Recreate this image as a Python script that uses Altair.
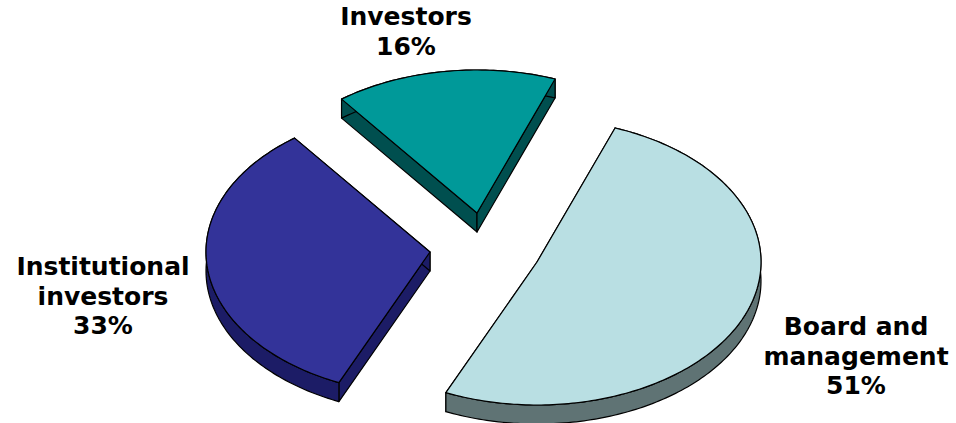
import math
import altair as alt

# Shareholder split, drawn clockwise from the first slice's start angle
labels = ["Investors", "Board and\nmanagement", "Institutional\ninvestors"]
shares = [16, 51, 33]

# Layout: exploded slice apexes, lid ellipse, extrusion depth, first-line label anchors
apex_x = [477, 537, 430]
apex_y = [213, 262, 252]
label_x = [406, 856, 103]
label_y = [17, 327, 267]
RX, RY = 224, 143
DEPTH = 19
START_DEG = -37.2

top_colors = ["#009999", "#B9DFE3", "#333399"]
side_colors = ["#004F4F", "#5F7374", "#1C1C66"]


def feature(ring, fill):
    return {
        "type": "Feature",
        "geometry": {"type": "Polygon", "coordinates": [ring + [ring[0]]]},
        "properties": {"fill": fill},
    }


# Painted back to front: cut faces, then outer rims, then the slice lids
cut_faces, rims, lids = [], [], []
angle = START_DEG
for share, ax, ay, top, side in zip(shares, apex_x, apex_y, top_colors, side_colors):
    sweep = share * 3.6
    steps = max(int(sweep), 2)
    rim = []
    for i in range(steps + 1):
        t = math.radians(angle + sweep * i / steps)
        rim.append([ax + RX * math.sin(t), ay - RY * math.cos(t)])
    low = lambda p: [p[0], p[1] + DEPTH]
    apex = [ax, ay]
    cut_faces.append(feature([apex, rim[0], low(rim[0]), low(apex)], side))
    cut_faces.append(feature([apex, rim[-1], low(rim[-1]), low(apex)], side))
    rims.append(feature(rim + [low(p) for p in reversed(rim)], side))
    lids.append(feature([apex] + rim, top))
    angle += sweep

projection = alt.Projection(type="identity", scale=1, translate=[0, 0]).to_dict()

pie = (
    alt.Chart(alt.Data(values=cut_faces + rims + lids))
    .mark_geoshape(stroke="black", strokeWidth=1.2, strokeJoin="round")
    .encode(fill=alt.Fill("properties.fill:N", scale=None))
    .project(**projection)
)

label_rows = [
    {"text": f"{name}\n{share}%", "px": x, "py": y}
    for name, share, x, y in zip(labels, shares, label_x, label_y)
]
text = (
    alt.Chart(alt.Data(values=label_rows))
    .mark_text(
        font="DejaVu Sans",
        fontWeight="bold",
        fontSize=25,
        lineHeight=29.5,
        lineBreak="\n",
        align="center",
        baseline="middle",
        color="black",
    )
    .encode(longitude="px:Q", latitude="py:Q", text="text:N")
    .project(**projection)
)

chart = (
    alt.layer(pie, text)
    .properties(
        width=956,
        height=423,
        padding=0,
        autosize=alt.AutoSizeParams(type="none"),
        background="white",
    )
    .configure_view(stroke=None)
)

chart.save("out.html", embed_options={"renderer": "svg", "actions": False})
